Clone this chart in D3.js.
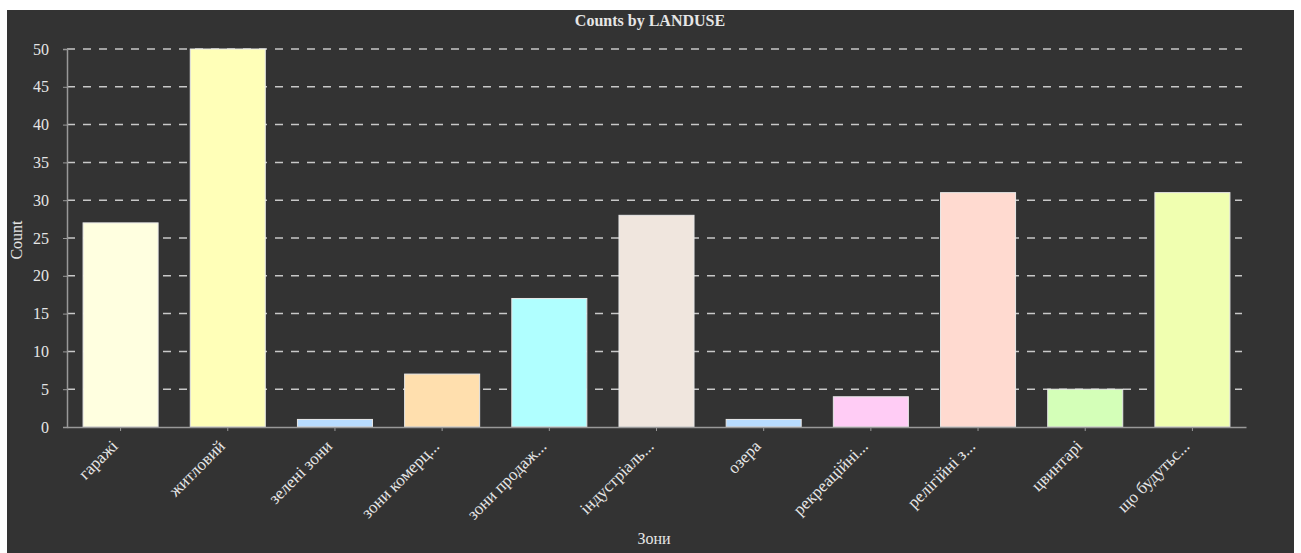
<!DOCTYPE html>
<html>
<head>
<meta charset="utf-8">
<script src="https://cdn.jsdelivr.net/npm/d3@7"></script>
<style>
  body { margin: 0; background: #fff; }
  svg { display: block; }
  text { font-family: "Liberation Serif", "Times New Roman", serif; }
</style>
</head>
<body>
<script>
// categories as shown on the axis (already truncated in the source chart)
const categories = ["гаражі", "житловий", "зелені зони", "зони комерц...", "зони продаж...",
    "індустріаль...", "озера", "рекреаційні...", "релігійні з...", "цвинтарі", "що будутьс..."];
const counts = [27, 50, 1, 7, 17, 28, 1, 4, 31, 5, 31];
const barColors = ["#ffffe0", "#ffffb8", "#b8dcff", "#ffdfae", "#b0ffff", "#f0e6de",
    "#b8dcff", "#ffccf5", "#ffdad0", "#d4ffb8", "#f0ffb0"];
const yTicks = [0, 5, 10, 15, 20, 25, 30, 35, 40, 45, 50];

let width = 1301, height = 553;
let margin = {top: 49, right: 55, bottom: 126, left: 67};
let serif = "'Liberation Serif', 'Times New Roman', serif";

let svg = d3.select("body").append("svg")
    .attr("width", width)
    .attr("height", height);

// dark panel
svg.append("rect")
    .attr("x", 7).attr("y", 10)
    .attr("width", 1287).attr("height", 543)
    .attr("fill", "#333333");

let x = d3.scaleBand()
    .domain(categories)
    .range([margin.left, width - margin.right])
    .paddingInner(0.3)
    .paddingOuter(0.15);

let y = d3.scaleLinear()
    .domain([0, 50])
    .range([height - margin.bottom, margin.top]);

// grid
svg.append("g")
    .selectAll("line")
    .data(yTicks.filter(d => d > 0))
    .enter().append("line")
    .attr("x1", margin.left)
    .attr("x2", width - margin.right - 4)
    .attr("y1", d => y(d))
    .attr("y2", d => y(d))
    .attr("stroke", "#c8c8c8")
    .attr("stroke-width", 1.5)
    .attr("stroke-dasharray", "8,8");

// bars
svg.append("g")
    .selectAll("rect")
    .data(counts)
    .enter().append("rect")
    .attr("x", (d, i) => x(categories[i]))
    .attr("y", d => y(d))
    .attr("width", x.bandwidth())
    .attr("height", d => y(0) - y(d))
    .attr("fill", (d, i) => barColors[i])
    .attr("stroke", "#e8e8e8")
    .attr("stroke-width", 1);

// y axis
let yAxis = svg.append("g")
    .attr("transform", "translate(" + margin.left + ",0)")
    .call(d3.axisLeft(y).tickValues(yTicks).tickSize(4).tickPadding(14))
    .attr("font-family", serif)
    .attr("font-size", 16);
yAxis.select(".domain").attr("stroke", "#999").attr("stroke-width", 1.5);
yAxis.selectAll(".tick line").attr("stroke", "#999");
yAxis.selectAll(".tick text").attr("fill", "#e6e6e6");

// x axis
let xAxis = svg.append("g")
    .attr("transform", "translate(0," + y(0) + ")")
    .call(d3.axisBottom(x).tickSize(4).tickSizeOuter(0))
    .attr("font-family", serif)
    .attr("font-size", 17);
xAxis.select(".domain").attr("stroke", "#999").attr("stroke-width", 1.5);
xAxis.selectAll(".tick line").attr("stroke", "#999");
xAxis.selectAll(".tick text")
    .attr("fill", "#e6e6e6")
    .style("text-anchor", "end")
    .attr("x", 0)
    .attr("y", 0)
    .attr("dx", 0)
    .attr("dy", "0.35em")
    .attr("transform", "translate(-6,16) rotate(-45)");

// titles
svg.append("text")
    .attr("x", 650).attr("y", 26)
    .attr("text-anchor", "middle")
    .attr("fill", "#e6e6e6")
    .style("font-size", "16px")
    .style("font-weight", "bold")
    .text("Counts by LANDUSE");

svg.append("text")
    .attr("x", 654).attr("y", 544)
    .attr("text-anchor", "middle")
    .attr("fill", "#e6e6e6")
    .style("font-size", "16px")
    .text("Зони");

svg.append("text")
    .attr("transform", "translate(22,240) rotate(-90)")
    .attr("text-anchor", "middle")
    .attr("fill", "#e6e6e6")
    .style("font-size", "16px")
    .text("Count");
</script>
</body>
</html>
